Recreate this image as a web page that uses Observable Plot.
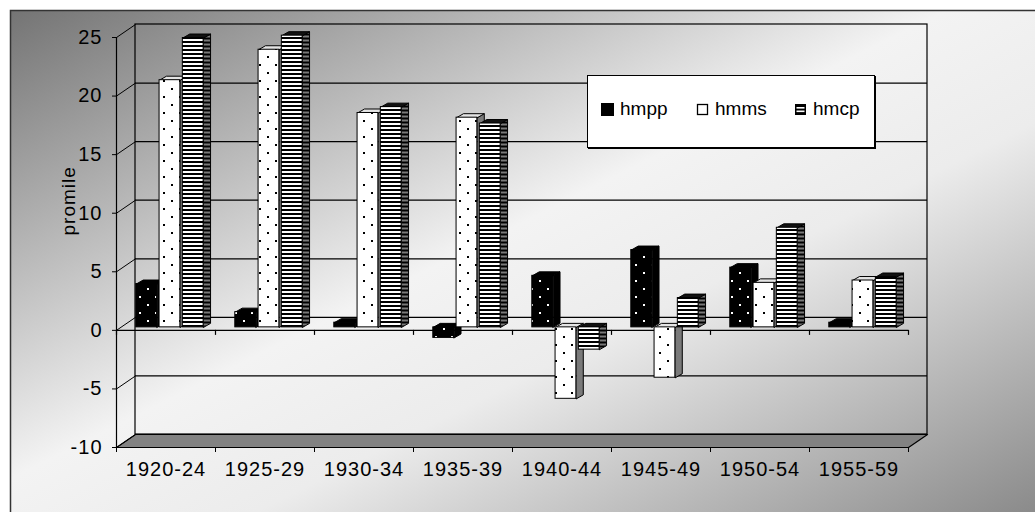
<!DOCTYPE html>
<html>
<head>
<meta charset="utf-8">
<script src="https://cdn.jsdelivr.net/npm/d3@7"></script>
<script src="https://cdn.jsdelivr.net/npm/@observablehq/plot@0.6"></script>
<style>
  body { margin: 0; background: #fff; }
  #wrap { position: relative; width: 1035px; height: 512px; overflow: hidden; }
  #legend { position: absolute; left: 587px; top: 75px; width: 286px; height: 71px; background: #fff;
            border: 1px solid #000; box-shadow: 1px 1px 0 #000;
            font-family: "Liberation Sans", Arial, sans-serif; font-size: 19px; color: #000; }
  .item { position: absolute; top: 0; height: 66px; display: flex; align-items: center; }
  .item svg { margin-right: 6px; display: block; }
</style>
</head>
<body>
<div id="wrap"><div id="legend"></div></div>
<script>
// ---- data ----
const categories = ["1920-24", "1925-29", "1930-34", "1935-39", "1940-44", "1945-49", "1950-54", "1955-59"];
const hmpp = [3.7, 1.3, 0.4, -0.9, 4.4, 6.6, 5.1, 0.4];
const hmms = [21.1, 23.7, 18.3, 17.9, -6.1, -4.3, 3.8, 4.0];
const hmcp = [24.7, 24.9, 18.8, 17.4, -1.9, 2.5, 8.5, 4.3];
const seriesNames = ["hmpp", "hmms", "hmcp"];
const yTicks = [-10, -5, 0, 5, 10, 15, 20, 25];
const yLabel = "promile";

// ---- layout constants (3D look) ----
const DX = 0.192, DY = 1.11;          // wall depth in data units
const BDX = 0.07, BDY = 0.34;         // bar depth in data units
const BAR_START = 0.2, BAR_STEP = 0.235, BAR_W = 0.21;

const styles = [
  {front: "url(#pBlackDots)", side: "#000", top: "#000"},
  {front: "url(#pWhiteDots)", side: "#7a7a7a", top: "#e4e4e4"},
  {front: "url(#pStripes)", side: "url(#pStripesSide)", top: "#111"}
];
const seriesValues = [hmpp, hmms, hmcp];

const barMarks = [];
seriesValues.forEach((vals, j) => {
  const fronts = [], sides = [], tops = [];
  vals.forEach((v, i) => {
    const x1 = i + BAR_START + j * BAR_STEP, x2 = x1 + BAR_W;
    const hi = Math.max(v, 0), lo = Math.min(v, 0);
    fronts.push({x1, x2, y1: lo, y2: hi});
    const id = `${j}-${i}`;
    [[x2, lo], [x2 + BDX, lo + BDY], [x2 + BDX, hi + BDY], [x2, hi]]
      .forEach(([x, y]) => sides.push({id, x, y}));
    [[x1, hi], [x1 + BDX, hi + BDY], [x2 + BDX, hi + BDY], [x2, hi]]
      .forEach(([x, y]) => tops.push({id, x, y}));
  });
  const st = styles[j];
  barMarks.push(
    Plot.line(sides, {x: "x", y: "y", z: "id", curve: "linear-closed", fill: st.side, stroke: "#000", strokeWidth: 1, dy: -3}),
    Plot.line(tops, {x: "x", y: "y", z: "id", curve: "linear-closed", fill: st.top, stroke: "#000", strokeWidth: 1, dy: -3}),
    Plot.rect(fronts, {x1: "x1", x2: "x2", y1: "y1", y2: "y2", fill: st.front, stroke: "#000", strokeWidth: 1, dy: -3})
  );
});

const floor = [[0, -10], [8, -10], [8 + DX, -10 + DY], [DX, -10 + DY]].map(([x, y]) => ({x, y}));

const chart = Plot.plot({
  width: 1035,
  height: 512,
  marginLeft: 116,
  marginRight: 127,
  marginTop: 37,
  marginBottom: 65,
  x: {domain: [0, 8], label: null},
  y: {domain: [-10, 25], label: null},
  style: {fontFamily: "'Liberation Sans', Arial, sans-serif", fontSize: "20px", letterSpacing: "1px", background: "transparent", overflow: "visible", color: "#000"},
  marks: [
    // back wall
    Plot.rect([0], {x1: 0, x2: 8, y1: -10, y2: 25, dx: 19, dy: -13, fill: "none", stroke: "#000", strokeWidth: 1.2}),
    Plot.ruleY(yTicks.filter(d => d > -10 && d < 25), {x1: 0, x2: 8, dx: 19, dy: -13, stroke: "#000", strokeWidth: 1.2}),
    // floor
    Plot.line(floor, {x: "x", y: "y", curve: "linear-closed", fill: "#828282", stroke: "#000", strokeWidth: 1.2}),
    // side connectors
    Plot.link(yTicks, {x1: 0, y1: d => d, x2: DX, y2: d => d + DY, stroke: "#000", strokeWidth: 1}),
    // front vertical axis line
    Plot.ruleX([0], {y1: -10, y2: 25, stroke: "#000", strokeWidth: 1.2}),
    // front zero line with ticks
    Plot.ruleY([0], {x1: 0, x2: 8, stroke: "#000", strokeWidth: 1.2}),
    Plot.ruleX(d3.range(9), {y1: 0, y2: -0.43, stroke: "#000", strokeWidth: 1.2}),
    ...barMarks,
    Plot.axisY(yTicks, {tickSize: 4, tickPadding: 10, label: null, fontSize: 20, tickFormat: d => String(d)}),
    Plot.axisX(d3.range(9), {tickSize: 5, tickFormat: () => "", label: null}),
    Plot.axisX(d3.range(8).map(i => i + 0.5), {tickSize: 0, tickPadding: 14, label: null, fontSize: 20, tickFormat: d => categories[Math.floor(d)]}),
    Plot.text([yLabel], {frameAnchor: "left", dx: -48, dy: -7, rotate: -90, fontSize: 19})
  ]
});

// defs: background gradient and fill patterns
const svg = d3.select(chart);
const defs = svg.insert("defs", ":first-child");
const grad = defs.append("linearGradient").attr("id", "bgGrad").attr("x1", 0).attr("y1", 0).attr("x2", 1).attr("y2", 1);
[[0, "#747474"], [0.45, "#f3f3f3"], [0.6, "#ececec"], [1, "#848484"]].forEach(([o, c]) =>
  grad.append("stop").attr("offset", o).attr("stop-color", c));

function dots(id, bg, fg) {
  const p = defs.append("pattern").attr("id", id).attr("patternUnits", "userSpaceOnUse").attr("width", 16).attr("height", 16);
  p.append("rect").attr("width", 16).attr("height", 16).attr("fill", bg);
  p.append("rect").attr("x", 3).attr("y", 3).attr("width", 2).attr("height", 2).attr("fill", fg);
  p.append("rect").attr("x", 11).attr("y", 11).attr("width", 2).attr("height", 2).attr("fill", fg);
}
dots("pBlackDots", "#000", "#fff");
dots("pWhiteDots", "#fff", "#000");
function stripes(id, light) {
  const p = defs.append("pattern").attr("id", id).attr("patternUnits", "userSpaceOnUse").attr("width", 4).attr("height", 4);
  p.append("rect").attr("width", 4).attr("height", 4).attr("fill", light);
  p.append("rect").attr("width", 4).attr("height", 2).attr("fill", "#000");
}
stripes("pStripes", "#fff");
stripes("pStripesSide", "#7a7a7a");

svg.insert("rect", "defs + *")
  .attr("x", 10.5).attr("y", 10.5).attr("width", 1040).attr("height", 520)
  .attr("fill", "url(#bgGrad)").attr("stroke", "#333").attr("stroke-width", 1.5);

document.getElementById("wrap").prepend(chart);

// legend (overlay inside the plot area)
const legend = document.getElementById("legend");
const legendX = [13, 108, 206];
const swatches = [
  `<svg width="13" height="13"><rect x="0.5" y="0.5" width="12" height="12" fill="#000" stroke="#000"/></svg>`,
  `<svg width="13" height="13"><rect x="1.5" y="1.5" width="10" height="10" fill="#fff" stroke="#000" stroke-width="1.3"/></svg>`,
  `<svg width="13" height="13"><rect x="1" y="1" width="11" height="11" fill="#000"/><rect x="2.5" y="4" width="8" height="1.6" fill="#fff"/><rect x="2.5" y="7.5" width="8" height="1.6" fill="#fff"/></svg>`
];
seriesNames.forEach((name, j) => {
  const it = document.createElement("div");
  it.className = "item";
  it.style.left = legendX[j] + "px";
  it.innerHTML = swatches[j] + `<span>${name}</span>`;
  legend.appendChild(it);
});
</script>
</body>
</html>
